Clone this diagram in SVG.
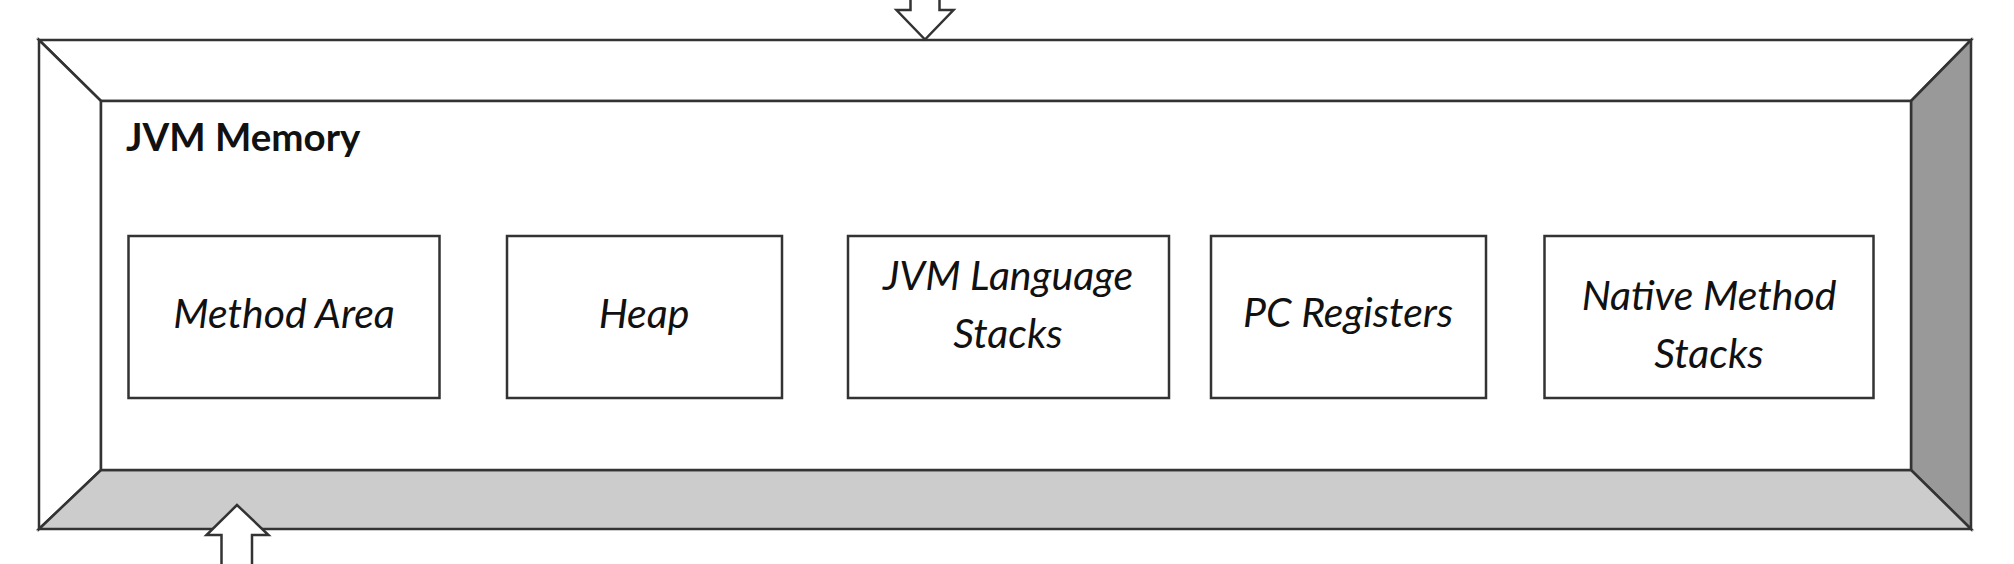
<svg xmlns="http://www.w3.org/2000/svg" width="2014" height="564" viewBox="0 0 2014 564">
<style>
.ln{stroke:#333;stroke-width:2.5;stroke-linejoin:miter}
.box{fill:#fff;stroke:#333;stroke-width:2.5}
.lbl{font-family:Lato,"Open Sans",sans-serif;font-style:italic;font-size:41px;fill:#111;text-anchor:middle}
.title{font-family:Lato,"Open Sans",sans-serif;font-weight:bold;font-size:38.5px;fill:#111}
</style>
<rect width="2014" height="564" fill="#fff"/>
<g id="frame">
<polygon class="ln" points="39,40 1971,40 1911,101 101,101" fill="#fff"/>
<polygon class="ln" points="39,40 101,101 101,470 39,529" fill="#fff"/>
<polygon class="ln" points="1971,40 1971,529 1911,470 1911,101" fill="#999"/>
<polygon class="ln" points="39,529 101,470 1911,470 1971,529" fill="#ccc"/>
<rect class="ln" x="101" y="101" width="1810" height="369" fill="#fff"/>
<text class="title" x="126" y="151">JVM Memory</text>
</g>
<g id="method-area">
<rect class="box" x="128.5" y="236" width="311" height="162"/>
<text class="lbl" x="284" y="328">Method Area</text>
</g>
<g id="heap">
<rect class="box" x="507" y="236" width="275" height="162"/>
<text class="lbl" x="644" y="328">Heap</text>
</g>
<g id="jvm-language-stacks">
<rect class="box" x="848" y="236" width="321" height="162"/>
<text class="lbl" x="1008" y="290">JVM Language</text>
<text class="lbl" x="1008" y="348">Stacks</text>
</g>
<g id="pc-registers">
<rect class="box" x="1211" y="236" width="275" height="162"/>
<text class="lbl" x="1348" y="327">PC Registers</text>
</g>
<g id="native-method-stacks">
<rect class="box" x="1544.5" y="236" width="329" height="162"/>
<text class="lbl" x="1709" y="310">Native Method</text>
<text class="lbl" x="1709" y="368">Stacks</text>
</g>
<g id="connectors">
<polygon class="ln" fill="#fff" points="910.5,-5 910.5,10 896.5,10 925,39.5 953.5,10 939.5,10 939.5,-5"/>
<polygon class="ln" fill="#fff" points="237,505 206.5,535 221.5,535 221.5,570 252,570 252,535 268.5,535"/>
</g>
</svg>
